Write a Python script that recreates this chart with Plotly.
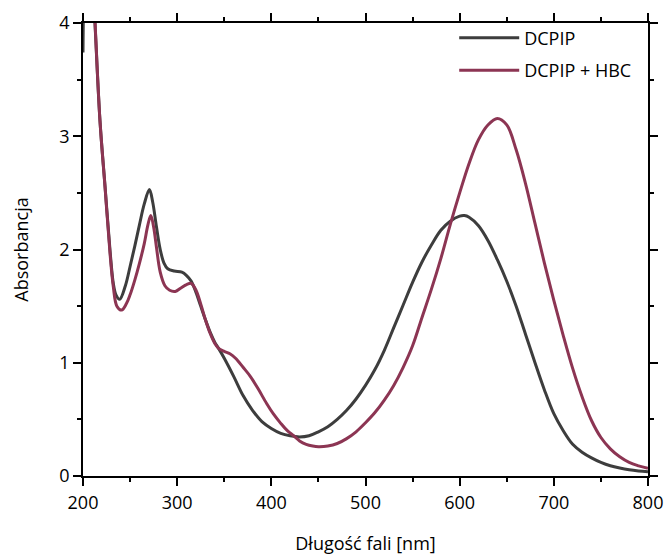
import plotly.graph_objects as go

# Wavelength [nm] and absorbance
wl_dcpip = [200, 202, 207, 212, 218, 223.4, 228.7, 232.2, 235, 239, 245, 250, 255, 260, 265, 270.5,
            274, 278, 282, 286, 290, 297, 305, 310, 315, 320, 325, 330, 335, 340, 344, 350, 360,
            370, 380, 390, 400, 410, 420, 430, 440, 450, 460, 470, 480, 490, 500, 510, 520, 530,
            540, 550, 560, 570, 580, 590, 600, 605, 610, 620, 630, 640, 650, 660, 670, 680, 690,
            700, 710, 720, 730, 740, 750, 760, 770, 780, 790, 800]
abs_dcpip = [3.74, 4.5, 4.9, 4.12, 3.14, 2.56, 1.99, 1.70, 1.60, 1.56, 1.68, 1.85, 2.03, 2.22, 2.40, 2.53,
             2.42, 2.20, 2.00, 1.88, 1.83, 1.81, 1.80, 1.77, 1.72, 1.62, 1.50, 1.38, 1.27, 1.18, 1.127, 1.04, 0.88,
             0.71, 0.58, 0.48, 0.42, 0.377, 0.355, 0.345, 0.355, 0.39, 0.435, 0.50, 0.58, 0.68, 0.80, 0.94, 1.11, 1.31,
             1.51, 1.71, 1.89, 2.04, 2.17, 2.25, 2.295, 2.30, 2.285, 2.21, 2.08, 1.91, 1.72, 1.50, 1.25, 1.00, 0.76,
             0.55, 0.40, 0.28, 0.21, 0.16, 0.12, 0.09, 0.07, 0.055, 0.045, 0.038]

wl_hbc = [208, 212.8, 218, 223.4, 228.7, 232.2, 236, 241, 246, 250, 255, 260, 265, 269, 272, 275,
          278, 282, 287, 292, 298, 304, 310, 315, 320, 325, 330, 335, 340, 344, 350, 356, 362, 370,
          378, 386, 395, 402, 410, 417, 424, 430, 437, 444, 450, 460, 470, 480, 490, 500, 510, 520,
          530, 540, 550, 560, 570, 580, 590, 600, 610, 620, 630, 640, 650, 660, 670, 680, 690, 700,
          710, 720, 730, 740, 750, 760, 770, 780, 790, 800]
abs_hbc = [4.8, 4.0, 3.14, 2.55, 1.965, 1.67, 1.50, 1.465, 1.52, 1.60, 1.73, 1.88, 2.05, 2.22, 2.30, 2.20,
           2.02, 1.80, 1.68, 1.64, 1.63, 1.66, 1.69, 1.70, 1.64, 1.52, 1.38, 1.26, 1.17, 1.127, 1.10, 1.08, 1.04, 0.96,
           0.876, 0.77, 0.64, 0.55, 0.465, 0.40, 0.353, 0.31, 0.28, 0.265, 0.259, 0.265, 0.287, 0.33, 0.39, 0.47, 0.56, 0.67,
           0.80, 0.96, 1.15, 1.40, 1.65, 1.92, 2.22, 2.50, 2.76, 2.97, 3.10, 3.157, 3.10, 2.88, 2.58, 2.23, 1.88, 1.55,
           1.24, 0.95, 0.70, 0.49, 0.34, 0.24, 0.17, 0.12, 0.09, 0.068]

names = ["DCPIP", "DCPIP + HBC"]
colors = ["#3d3d3d", "#8c3553"]

FONT = "Open Sans"
FS = 18

fig = go.Figure()
fig.add_trace(go.Scatter(x=wl_dcpip, y=abs_dcpip, mode="lines", name=names[0],
                         legendgroup="a",
                         line=dict(color=colors[0], width=3, shape="spline", smoothing=1.0)))
fig.add_trace(go.Scatter(x=wl_hbc, y=abs_hbc, mode="lines", name=names[1],
                         legendgroup="b",
                         line=dict(color=colors[1], width=3, shape="spline", smoothing=1.0)))

fig.update_layout(
    width=665, height=555,
    margin=dict(l=83, r=17, t=23, b=79),
    paper_bgcolor="white", plot_bgcolor="white",
    font=dict(family=FONT, size=FS, color="black"),
    xaxis=dict(range=[200, 800], dtick=100, tick0=200,
               showline=True, linecolor="#000000", linewidth=1.5, mirror="allticks",
               ticks="outside", ticklen=8, tickwidth=1.5, tickcolor="#000000",
               minor=dict(ticks="outside", dtick=50, tick0=200, ticklen=4, tickwidth=1.5, tickcolor="#000000"),
               showgrid=False, zeroline=False, automargin=False, ticklabelstandoff=2,
               tickfont=dict(family=FONT, size=FS, color="black"),
               title=dict(text="Długość fali [nm]", font=dict(family=FONT, size=FS, color="black"), standoff=30)),
    yaxis=dict(range=[0, 4], dtick=1, tick0=0,
               showline=True, linecolor="#000000", linewidth=1.5, mirror="allticks",
               ticks="outside", ticklen=8, tickwidth=1.5, tickcolor="#000000",
               minor=dict(ticks="outside", dtick=0.5, tick0=0, ticklen=4, tickwidth=1.5, tickcolor="#000000"),
               showgrid=False, zeroline=False, automargin=False,
               tickfont=dict(family=FONT, size=FS, color="black"),
               title=dict(text="Absorbancja", font=dict(family=FONT, size=FS, color="black"), standoff=26)),
    legend=dict(x=0.657, y=1.0075, xanchor="left", yanchor="top",
                bgcolor="rgba(0,0,0,0)", itemwidth=60, tracegroupgap=6,
                font=dict(family=FONT, size=FS, color="black")),
)

fig.write_html("out.html")
